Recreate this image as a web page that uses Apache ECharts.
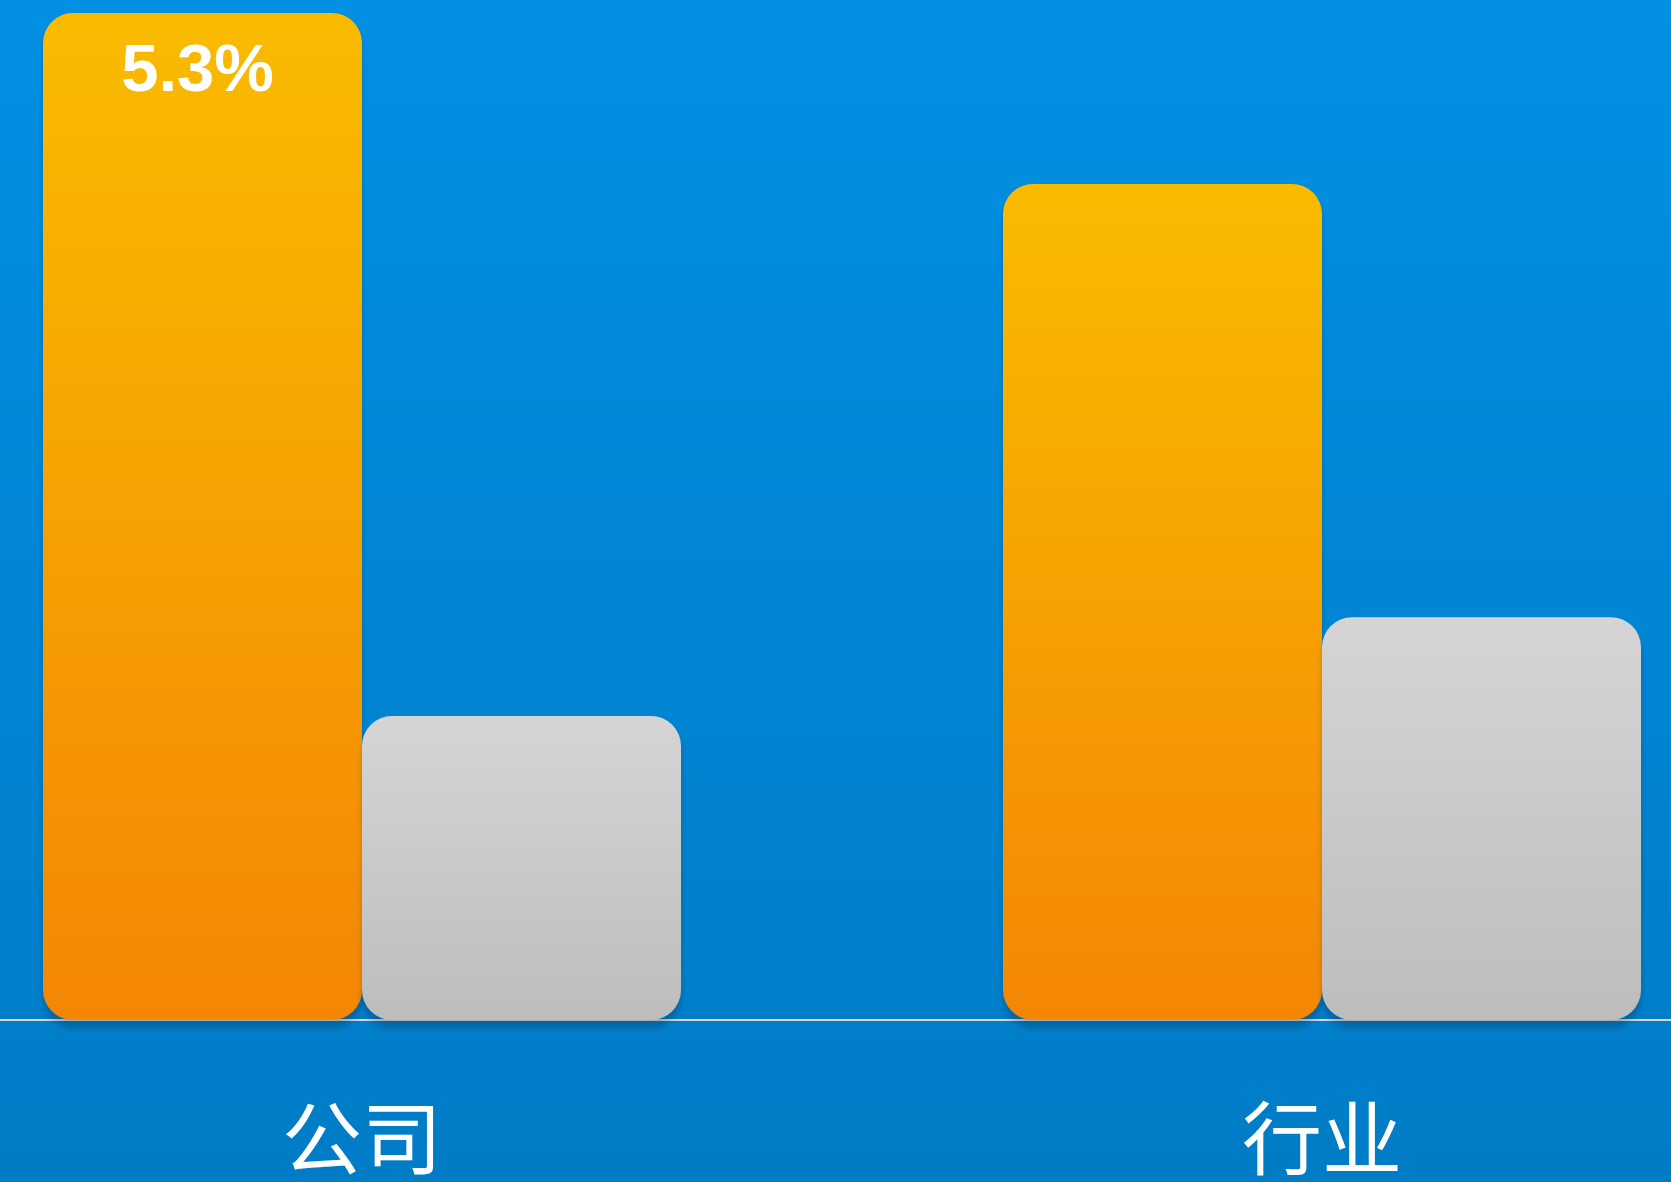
<!DOCTYPE html>
<html>
<head>
<meta charset="utf-8">
<script src="https://cdn.jsdelivr.net/npm/echarts@6/dist/echarts.min.js"></script>
<style>
  html, body { margin: 0; padding: 0; overflow: hidden; width: 1671px; height: 1182px; }
  /* plot is wider than the window, both sides run past the edges */
  #chart { position: absolute; left: -118px; top: 0; width: 1920px; height: 1182px; }
</style>
</head>
<body>
<div id="chart"></div>
<script>
const categories = ["公司", "行业"];
const orangeValues = [5.3, 4.4];
const grayValues = [1.6, 2.12];
// only the company's orange bar carries a label
const labelledBars = [0];

const chart = echarts.init(document.getElementById("chart"));

const grad = (top, bottom) =>
  new echarts.graphic.LinearGradient(0, 0, 0, 1, [
    { offset: 0, color: top },
    { offset: 1, color: bottom },
  ]);

const barStyle = (top, bottom) => ({
  color: grad(top, bottom),
  borderRadius: 30,
  shadowColor: "rgba(0, 0, 0, 0.2)",
  shadowBlur: 6,
  shadowOffsetY: 8,
});

const option = {
  backgroundColor: grad("#0290e3", "#007cc6"),
  animation: false,
  grid: {
    left: 0,
    right: 0,
    top: 13,
    bottom: 162,
  },
  xAxis: {
    type: "category",
    data: categories,
    axisTick: { show: false },
    axisLine: { lineStyle: { color: "#d8d8d8", width: 2 } },
    axisLabel: {
      color: "#ffffff",
      fontSize: 80,
      fontFamily: "Noto Sans CJK SC",
      margin: 78,
    },
  },
  yAxis: {
    type: "value",
    min: 0,
    max: 5.3,
    show: false,
    splitLine: { show: false },
  },
  series: [
    {
      type: "bar",
      barWidth: 319,
      barGap: "0%",
      itemStyle: barStyle("#f9bb00", "#f48603"),
      label: {
        position: "insideTop",
        distance: 26,
        offset: [-5, 0],
        color: "#ffffff",
        fontSize: 67,
        fontWeight: "bold",
        fontFamily: "Liberation Sans",
        formatter: "{c}%",
      },
      data: orangeValues.map((v, i) => ({
        value: v,
        label: { show: labelledBars.includes(i) },
      })),
    },
    {
      type: "bar",
      barWidth: 319,
      barGap: "0%",
      itemStyle: barStyle("#d5d5d5", "#bdbdbd"),
      data: grayValues,
    },
  ],
};

chart.setOption(option);
</script>
</body>
</html>
